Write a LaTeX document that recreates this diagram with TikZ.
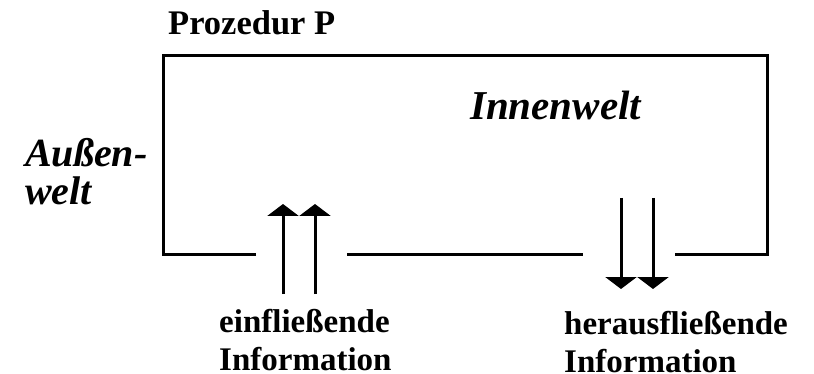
\documentclass[tikz,border=0pt]{standalone}
\usepackage{fontspec}
\setmainfont{Liberation Serif}
\usetikzlibrary{arrows.meta}

\begin{document}
\begin{tikzpicture}[x=1pt, y=-1pt,
        rahmen/.style={line width=3pt},
        pfeil/.style={-{Triangle[width=31pt, length=12pt]}, line width=3pt},
        fett/.style={font=\fontsize{33}{38}\selectfont\bfseries, inner sep=0pt, anchor=base west, align=left},
        kursiv/.style={font=\fontsize{40}{38}\selectfont\bfseries\itshape, inner sep=0pt, anchor=base west, align=left}]
        \useasboundingbox (0,0) rectangle (814,374);

        % Rahmen
        \coordinate (lu) at (163,255);
        \coordinate (lo) at (163,56);
        \coordinate (ro) at (767,56);
        \coordinate (ru) at (767,255);
        \coordinate (l1) at (256,255);
        \coordinate (m1) at (347,255);
        \coordinate (m2) at (583,255);
        \coordinate (r1) at (675,255);

        \draw [rahmen] (l1)--(lu)--(lo)--(ro)--(ru)--(r1);
        \draw [rahmen] (m1)--(m2);

        % Pfeile
        \coordinate (ein1u) at (283,294);
        \coordinate (ein1o) at (283,204);
        \coordinate (ein2u) at (315,294);
        \coordinate (ein2o) at (315,204);
        \coordinate (aus1o) at (621,198);
        \coordinate (aus1u) at (621,289);
        \coordinate (aus2o) at (653,198);
        \coordinate (aus2u) at (653,289);

        \draw [pfeil] (ein1u)--(ein1o);
        \draw [pfeil] (ein2u)--(ein2o);
        \draw [pfeil] (aus1o)--(aus1u);
        \draw [pfeil] (aus2o)--(aus2u);

        % Beschriftung (Grundlinie der letzten Zeile)
        \node[fett, font=\fontsize{34.5}{38}\selectfont\bfseries] (prozedur) at (168,35) {Prozedur P};
        \node[kursiv, font=\fontsize{41}{38}\selectfont\bfseries\itshape] (innenwelt) at (470,120) {Innenwelt};
        \node[kursiv] (aussenwelt) at (25,205) {Außen-\\welt};
        \node[fett] (einfl) at (219,370) {einfließende\\Information};
        \node[fett] (herausfl) at (564,372) {herausfließende\\Information};

\end{tikzpicture}
\end{document}
